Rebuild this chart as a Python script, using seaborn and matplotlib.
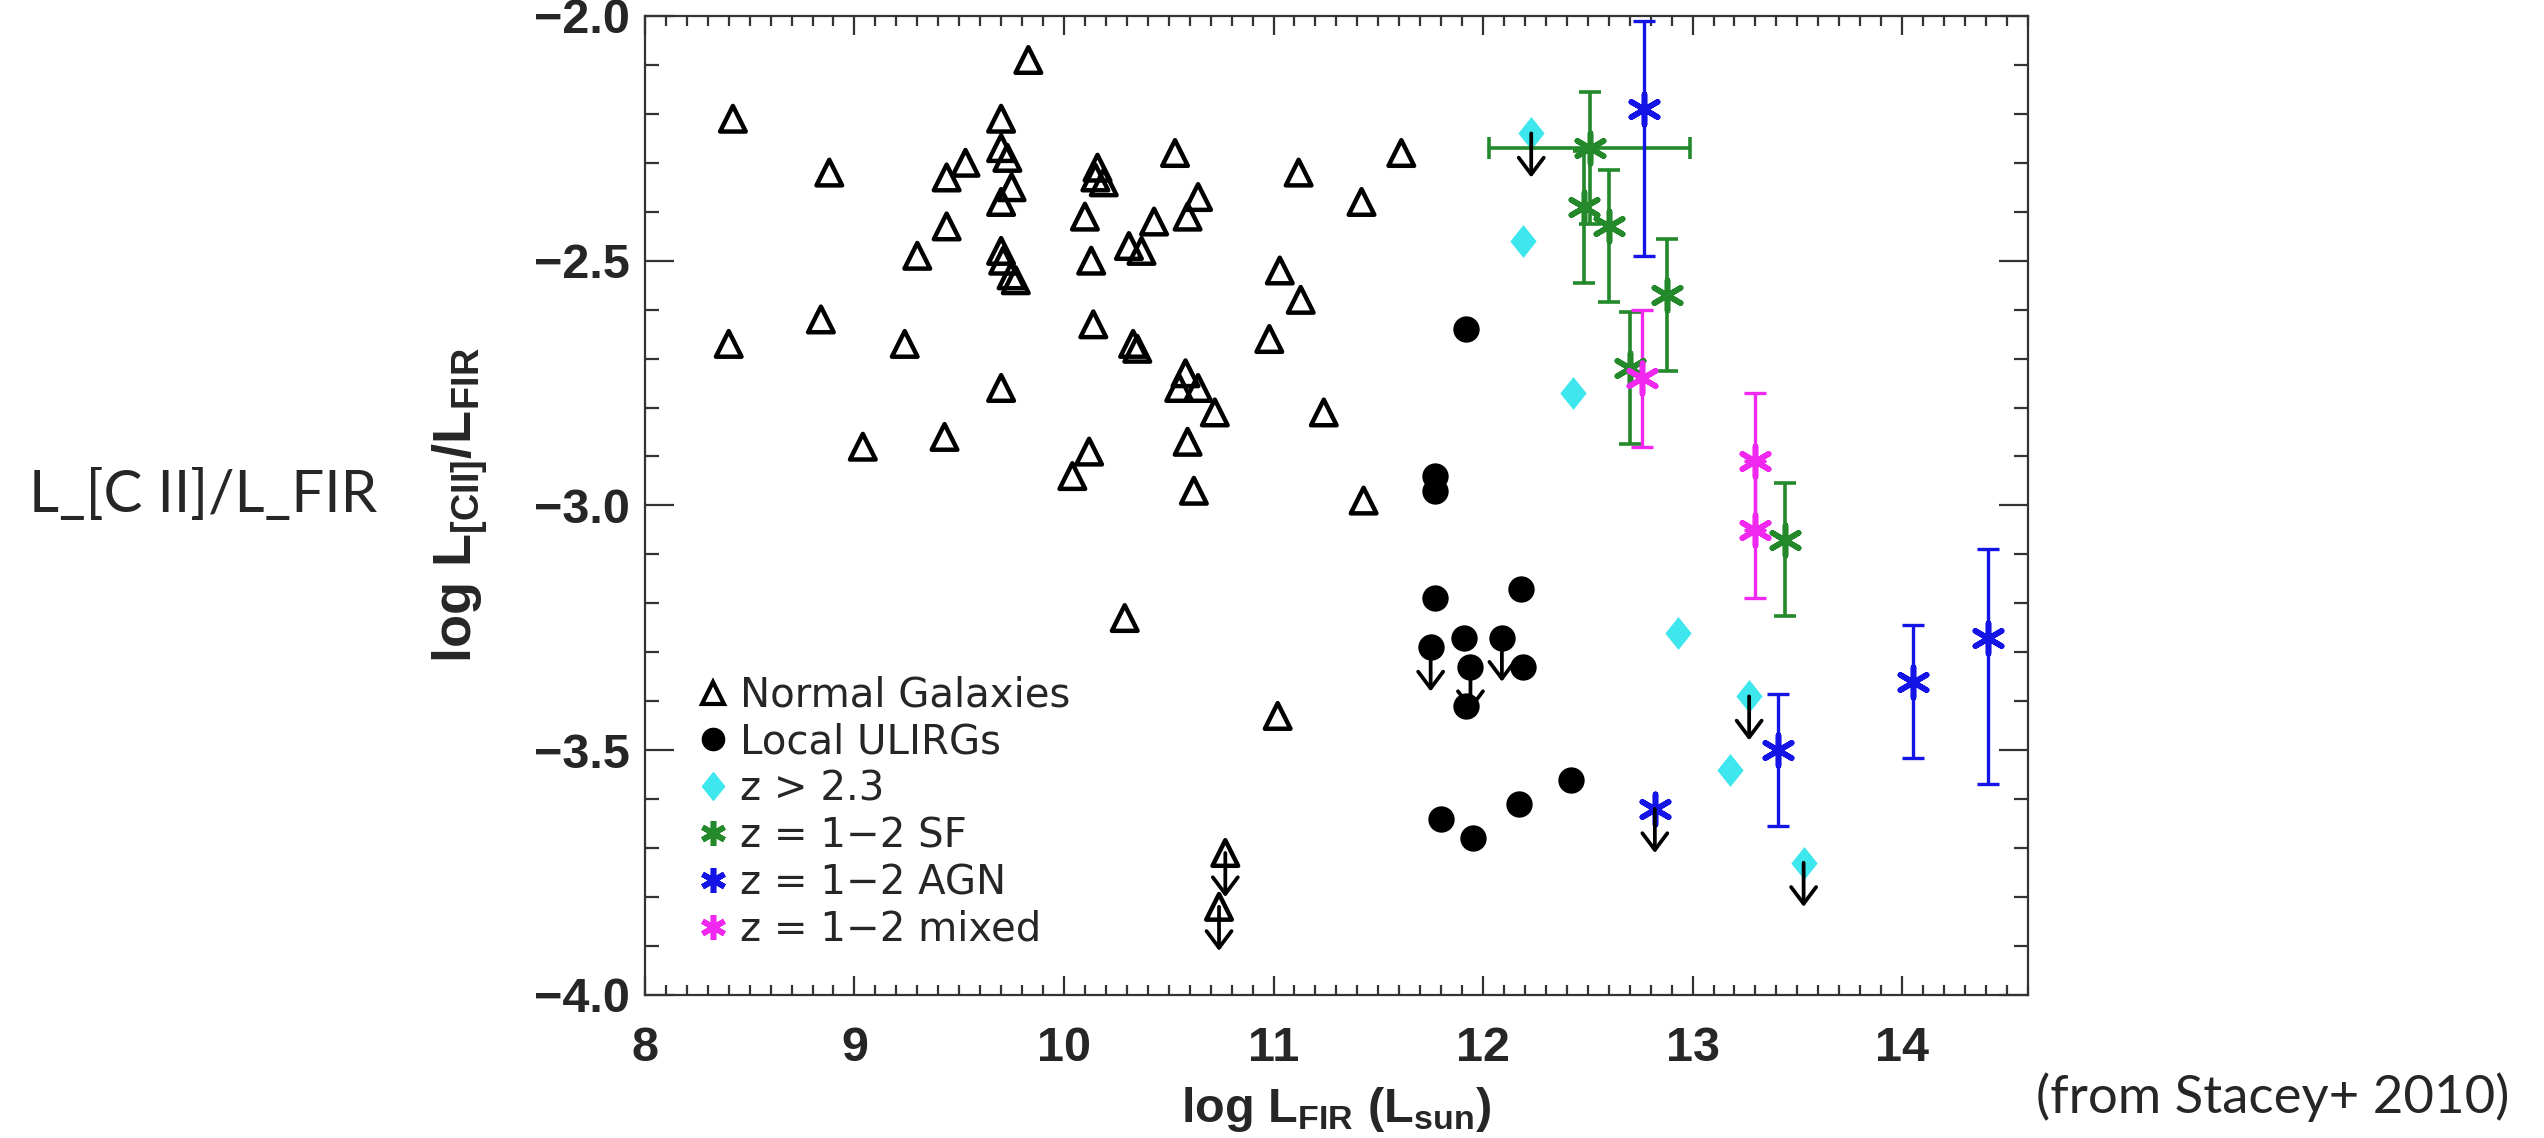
import matplotlib
matplotlib.use("Agg")
import matplotlib.pyplot as plt
from matplotlib.lines import Line2D
from matplotlib.ticker import MultipleLocator, FuncFormatter
import seaborn as sns

# values (log L_FIR, log L[CII]/L_FIR)
# normal galaxies
gal_x = [9.83, 8.42, 9.70, 9.70, 9.73, 9.53, 9.44, 8.88, 9.75, 9.70, 9.44, 9.30, 9.70,
         9.71, 9.75, 9.77, 10.53, 10.16, 10.15, 10.19, 10.10, 10.13, 10.31, 10.37, 10.43,
         10.59, 10.64, 11.12, 11.42, 11.61, 11.03, 11.13, 8.84, 8.40, 9.24, 10.14, 10.33,
         10.35, 10.98, 9.70, 10.58, 10.55, 10.64, 10.72, 11.24, 9.04, 9.43, 10.12, 10.04,
         10.59, 10.62, 11.43, 10.29, 11.02]
gal_y = [-2.09, -2.21, -2.21, -2.27, -2.29, -2.30, -2.33, -2.32, -2.35, -2.38, -2.43, -2.49, -2.48,
         -2.50, -2.53, -2.54, -2.28, -2.31, -2.33, -2.34, -2.41, -2.50, -2.47, -2.48, -2.42,
         -2.41, -2.37, -2.32, -2.38, -2.28, -2.52, -2.58, -2.62, -2.67, -2.67, -2.63, -2.67,
         -2.68, -2.66, -2.76, -2.73, -2.76, -2.76, -2.81, -2.81, -2.88, -2.86, -2.89, -2.94,
         -2.87, -2.97, -2.99, -3.23, -3.43]
gal_lim_x = [10.77, 10.74]
gal_lim_y = [-3.71, -3.82]

# local ULIRGs
uli_x = [11.92, 11.77, 11.77, 11.77, 12.18, 11.91, 12.19, 11.92, 11.80, 11.95, 12.17, 12.42]
uli_y = [-2.64, -2.94, -2.97, -3.19, -3.17, -3.27, -3.33, -3.41, -3.64, -3.68, -3.61, -3.56]
uli_lim_x = [11.75, 12.09, 11.94]
uli_lim_y = [-3.29, -3.27, -3.33]

# z > 2.3
hz_x = [12.19, 12.43, 12.93, 13.18]
hz_y = [-2.46, -2.77, -3.26, -3.54]
hz_lim_x = [12.23, 13.27, 13.53]
hz_lim_y = [-2.24, -3.39, -3.73]

# z = 1-2 star forming
sf_x = [12.51, 12.48, 12.60, 12.88, 12.70, 13.44]
sf_y = [-2.27, -2.39, -2.43, -2.57, -2.72, -3.07]
sf_err_lo = [0.155, 0.155, 0.155, 0.155, 0.155, 0.155]
sf_err_hi = [0.115, 0.115, 0.115, 0.115, 0.115, 0.115]
sf_xerr_lo = [0.48, 0, 0, 0, 0, 0]
sf_xerr_hi = [0.48, 0, 0, 0, 0, 0]

# z = 1-2 AGN
agn_x = [12.77, 13.41, 14.05, 14.41]
agn_y = [-2.19, -3.50, -3.36, -3.27]
agn_err_lo = [0.30, 0.155, 0.155, 0.30]
agn_err_hi = [0.18, 0.115, 0.115, 0.18]
agn_lim_x = [12.82]
agn_lim_y = [-3.62]

# z = 1-2 mixed
mix_x = [12.76, 13.30, 13.30]
mix_y = [-2.74, -2.91, -3.05]
mix_err = [0.14, 0.14, 0.14]

labels = ["Normal Galaxies", "Local ULIRGs", "z > 2.3",
          "z = 1\u22122 SF", "z = 1\u22122 AGN", "z = 1\u22122 mixed"]

CYAN = "#3EE6EE"
GREEN = "#23892A"
BLUE = "#1414E6"
MAGENTA = "#F028F0"
ASTER = (6, 2, 0)
DIAMOND = [(0, 1), (0.8, 0), (0, -1), (-0.8, 0), (0, 1)]
ARROW_LEN = 0.09

sns.set_style("ticks")
plt.rcParams["font.family"] = ["Liberation Sans", "DejaVu Sans"]
plt.rcParams["mathtext.fontset"] = "custom"
plt.rcParams["mathtext.rm"] = "Liberation Sans:bold"
plt.rcParams["mathtext.it"] = "Liberation Sans:bold"
plt.rcParams["mathtext.bf"] = "Liberation Sans:bold"

fig = plt.figure(figsize=(25.44, 11.38), dpi=100)
ax = fig.add_axes([0.2535, 0.1257, 0.5436, 0.8603])

# normal galaxies, open triangles
sns.scatterplot(x=gal_x + gal_lim_x, y=gal_y + gal_lim_y, marker="^", s=340,
                facecolor="none", edgecolor="black", linewidth=3.2, legend=False, ax=ax)
# local ULIRGs
sns.scatterplot(x=uli_x + uli_lim_x, y=uli_y + uli_lim_y, marker="o", s=360,
                color="black", edgecolor="black", linewidth=0, legend=False, ax=ax)
# high-z
sns.scatterplot(x=hz_x + hz_lim_x, y=hz_y + hz_lim_y, marker=DIAMOND, s=560,
                color=CYAN, edgecolor=CYAN, linewidth=0, legend=False, ax=ax)

# error bars
ax.errorbar(sf_x, sf_y, yerr=[sf_err_lo, sf_err_hi], xerr=[sf_xerr_lo, sf_xerr_hi],
            fmt="none", ecolor=GREEN, elinewidth=2.6, capsize=8, capthick=2.6)
ax.errorbar(agn_x, agn_y, yerr=[agn_err_lo, agn_err_hi], fmt="none", ecolor=BLUE,
            elinewidth=2.4, capsize=8, capthick=2.4)
ax.errorbar(mix_x, mix_y, yerr=mix_err, fmt="none", ecolor=MAGENTA,
            elinewidth=2.4, capsize=8, capthick=2.4)

sns.scatterplot(x=sf_x, y=sf_y, marker=ASTER, s=480, color=GREEN, linewidth=4,
                legend=False, ax=ax, zorder=3)
sns.scatterplot(x=agn_x + agn_lim_x, y=agn_y + agn_lim_y, marker=ASTER, s=480, color=BLUE,
                linewidth=4, legend=False, ax=ax, zorder=3)
sns.scatterplot(x=mix_x, y=mix_y, marker=ASTER, s=480, color=MAGENTA, linewidth=4,
                legend=False, ax=ax, zorder=3)

# upper limits
for xs, ys in [(gal_lim_x, gal_lim_y), (uli_lim_x, uli_lim_y),
               (hz_lim_x, hz_lim_y), (agn_lim_x, agn_lim_y)]:
    for x, y in zip(xs, ys):
        ax.annotate("", xy=(x, y - ARROW_LEN), xytext=(x, y),
                    arrowprops=dict(arrowstyle="->,head_length=0.4,head_width=0.3",
                                    color="black", lw=2.7, mutation_scale=30,
                                    shrinkA=0, shrinkB=0), zorder=4)

ax.set_xlim(8, 14.6)
ax.set_ylim(-4.0, -2.0)
ax.xaxis.set_major_locator(MultipleLocator(1))
ax.xaxis.set_minor_locator(MultipleLocator(0.1))
ax.yaxis.set_major_locator(MultipleLocator(0.5))
ax.yaxis.set_minor_locator(MultipleLocator(0.1))
ax.yaxis.set_major_formatter(FuncFormatter(lambda v, p: f"{v:.1f}".replace("-", "\u2212")))
ax.xaxis.set_major_formatter(FuncFormatter(lambda v, p: f"{v:.0f}"))

ax.tick_params(axis="both", which="both", direction="in", top=True, right=True,
               color="#333333", width=1.6)
ax.tick_params(axis="x", which="major", length=14, pad=22, labelsize=35)
ax.tick_params(axis="x", which="minor", length=7)
ax.tick_params(axis="y", which="major", length=21, pad=11, labelsize=35)
ax.tick_params(axis="y", which="minor", length=10)
for lab in ax.get_xticklabels() + ax.get_yticklabels():
    lab.set_fontweight("bold")
for sp in ax.spines.values():
    sp.set_color("#333333")
    sp.set_linewidth(1.6)

ax.set_xlabel(r"log L$_{\rm FIR}$ (L$_{\rm sun}$)", fontsize=35, fontweight="bold")
ax.xaxis.set_label_coords(0.5, -0.092)
ax.xaxis.label.set_va("top")
ax.set_ylabel(r"log L$_{\rm [CII]}$/L$_{\rm FIR}$", fontsize=39, fontweight="bold")
ax.yaxis.set_label_coords(-0.112, 0.5)

handles = [
    Line2D([], [], ls="none", marker="^", ms=16, mfc="none", mec="black", mew=3),
    Line2D([], [], ls="none", marker="o", ms=16, mfc="black", mec="black"),
    Line2D([], [], ls="none", marker=DIAMOND, ms=20, mfc=CYAN, mec=CYAN),
    Line2D([], [], ls="none", marker=ASTER, ms=18, color=GREEN, mew=4),
    Line2D([], [], ls="none", marker=ASTER, ms=18, color=BLUE, mew=4),
    Line2D([], [], ls="none", marker=ASTER, ms=18, color=MAGENTA, mew=4),
]
leg = ax.legend(handles, labels, loc="lower left", bbox_to_anchor=(0.035, 0.046),
                frameon=False, borderpad=0, borderaxespad=0, handlelength=1.0,
                handletextpad=0.15, labelspacing=0.17,
                prop={"family": "DejaVu Sans", "size": 29})

fig.text(0.0114, 0.565, "L_[C II]/L_FIR", family="Lato", fontsize=42,
         ha="left", va="center")
fig.text(0.9865, 0.022, "(from Stacey+ 2010)", family="Lato", fontsize=38,
         ha="right", va="baseline")

fig.savefig("out.png", dpi=100, facecolor="white")
